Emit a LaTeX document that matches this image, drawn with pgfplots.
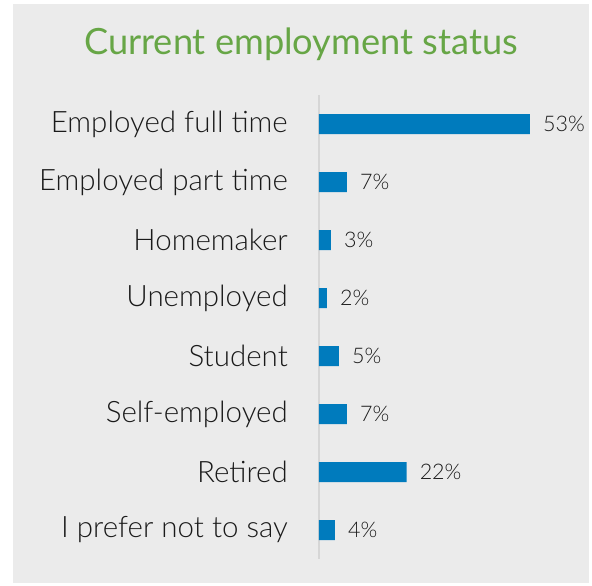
\documentclass[border=0pt]{standalone}
\usepackage{pgfplots}
\pgfplotsset{compat=1.18}
\usepackage{fontspec}
\setmainfont{Lato Light}
\newfontfamily\titlefont{Lato}
\definecolor{panelgray}{HTML}{EBEBEB}
\definecolor{barblue}{HTML}{007BBD}
\definecolor{titlegreen}{HTML}{67A646}
\definecolor{axisgray}{HTML}{D6D6D6}
\definecolor{textdark}{HTML}{1A1A1A}
\pgfplotstableread{
idx value
0 53
1 7
2 3
3 2
4 5
5 7
6 22
7 4
}\datatable
\begin{document}
\begin{tikzpicture}[x=1pt,y=1pt]
\fill[white] (0,0) rectangle (592,586);
\fill[panelgray] (13,3) rectangle (589,582);
\node[font=\titlefont\fontsize{36.2}{40}\selectfont, text=titlegreen, anchor=base] at (301,531) {Current employment status};
\begin{axis}[
  at={(319pt,27pt)}, anchor=south west,
  scale only axis,
  width=238.8pt, height=464pt,
  xmin=0, xmax=60,
  ymin=-0.5, ymax=7.5,
  y dir=reverse,
  xbar, bar width=20pt,
  axis x line=none,
  axis y line*=left,
  y axis line style={draw=axisgray, line width=2pt, -},
  ytick={0,1,2,3,4,5,6,7},
  yticklabels={Employed full time, Employed part time, Homemaker, Unemployed, Student, Self-employed, Retired, I prefer not to say},
  major tick length=0pt,
  yticklabel style={font=\fontsize{29.5}{33}\selectfont, text=textdark, inner sep=0pt, xshift=-31pt},
  /pgf/number format/assume math mode=true,
  nodes near coords={\pgfmathprintnumber{\pgfplotspointmeta}\%},
  nodes near coords align=horizontal,
  every node near coord/.append style={font=\fontsize{21.5}{26}\selectfont, text=textdark, inner sep=0pt, xshift=13pt},
  clip=false,
]
\addplot[fill=barblue, draw=none] table[x=value, y=idx] {\datatable};
\end{axis}
\end{tikzpicture}
\end{document}
